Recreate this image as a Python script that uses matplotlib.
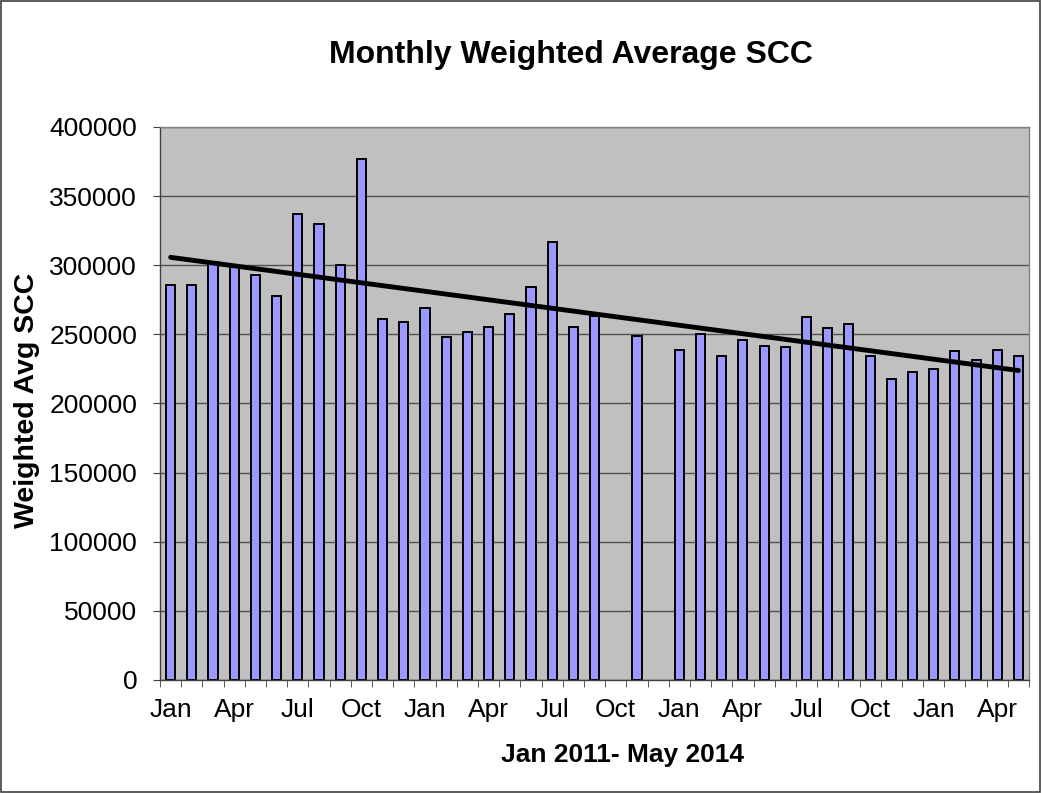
import numpy as np
import matplotlib
matplotlib.use("Agg")
import matplotlib.pyplot as plt
from matplotlib.patches import Rectangle

plt.rcParams['font.family'] = ['Liberation Sans', 'DejaVu Sans']

months = ["Jan", "Feb", "Mar", "Apr", "May", "Jun", "Jul", "Aug", "Sep", "Oct", "Nov", "Dec"] * 3 + \
         ["Jan", "Feb", "Mar", "Apr", "May"]
values = [286000, 286000, 302000, 299000, 293000, 278000, 337000, 330000, 300000, 377000, 261000, 259000,
          269000, 248000, 251500, 255500, 265000, 284000, 316500, 255500, 263500, np.nan, 248500, np.nan,
          239000, 250500, 234500, 246000, 241500, 241000, 262500, 254500, 257500, 234000, 217700, 222800,
          224700, 238000, 231600, 239000, 234300]

x = np.arange(len(values))
vals = np.array(values, dtype=float)
mask = ~np.isnan(vals)

fig = plt.figure(figsize=(10.42, 7.93), dpi=100)
fig.patches.append(Rectangle((0.0005, 0.0008), 0.998, 0.998, transform=fig.transFigure,
                             fill=False, edgecolor='#404040', linewidth=1.2))
ax = fig.add_axes([0.1536, 0.1425, 0.834, 0.6974])
ax.set_facecolor('#C0C0C0')

ax.bar(x[mask], vals[mask], width=0.43, color='#9999FF', edgecolor='black', linewidth=1.4, zorder=2)

coef = np.polyfit(x[mask], vals[mask], 1)
ax.plot([x[0], x[-1]], np.polyval(coef, [x[0], x[-1]]), color='black', linewidth=3.5, zorder=3,
        solid_capstyle='round')

ax.set_xlim(-0.5, len(values) - 0.5)
ax.set_ylim(0, 400000)
ax.set_yticks(np.arange(0, 400001, 50000))
ax.set_yticklabels([str(v) for v in range(0, 400001, 50000)], fontsize=19)
ax.yaxis.grid(True, color='#505050', linewidth=1.0, zorder=1)
ax.set_axisbelow(True)

label_pos = [i for i in x if i % 3 == 0]
ax.set_xticks(label_pos)
ax.set_xticklabels([months[i] for i in label_pos], fontsize=19)
ax.set_xticks(np.arange(-0.5, len(values), 1), minor=True)
ax.tick_params(axis='x', which='major', length=0, pad=13)
ax.tick_params(axis='x', which='minor', length=5, color='#404040')
ax.tick_params(axis='y', length=5, color='#404040', pad=11.5)

for s in ax.spines.values():
    s.set_color('#808080')
    s.set_linewidth(1.0)
ax.spines['left'].set_color('#404040')
ax.spines['bottom'].set_color('#404040')

fig.text(0.026, 0.4956, 'Weighted Avg SCC', fontsize=20.5, fontweight='bold',
         rotation=90, ha='center', va='center')
fig.text(0.5974, 1 - 762 / 793, 'Jan 2011- May 2014', fontsize=19, fontweight='bold',
         ha='center', va='baseline')
fig.text(0.548, 1 - 63 / 793, 'Monthly Weighted Average SCC', fontsize=23, fontweight='bold',
         ha='center', va='baseline')

fig.savefig('out.png', dpi=100)
